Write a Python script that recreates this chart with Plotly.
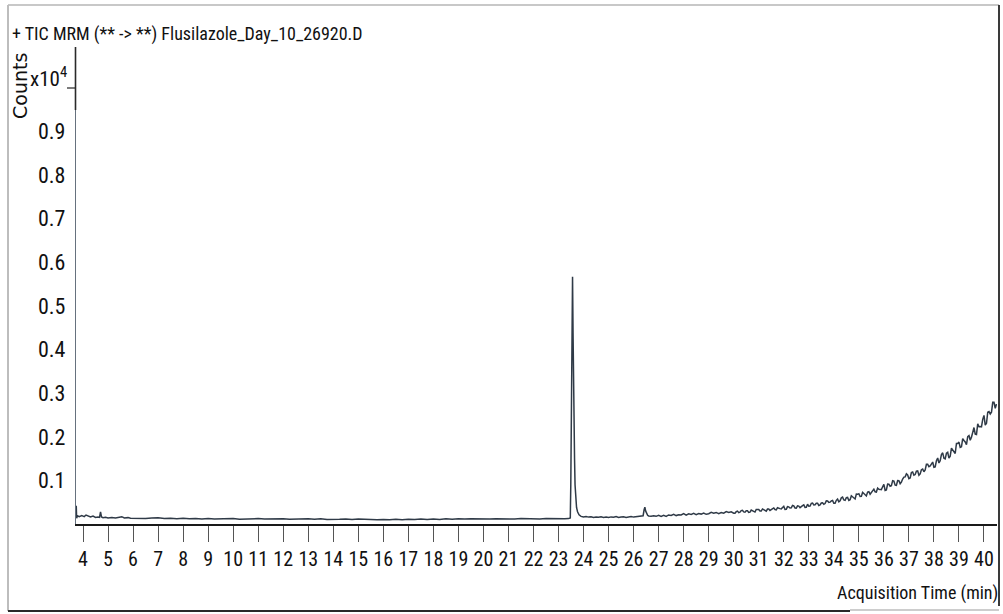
import plotly.graph_objects as go

# ---- data (counts) ----
t_start = [3.73, 3.745, 3.78, 3.85, 3.95, 4.05, 4.12, 4.2, 4.3, 4.4, 4.5, 4.6, 4.66, 4.7, 4.74,
           4.8, 4.9, 5.0, 5.15, 5.3, 5.45, 5.55, 5.65, 5.8, 5.9]
c_start = [420, 130, 190, 168, 192, 170, 205, 178, 160, 182, 150, 158, 150, 280, 160,
           145, 152, 138, 150, 140, 152, 168, 140, 146, 132]

t_flat = [6.0, 6.25, 6.5, 6.75, 7.0, 7.25, 7.5, 7.75, 8.0, 8.25, 8.5, 8.75, 9.0, 9.25, 9.5, 9.75,
          10.0, 10.25, 10.5, 10.75, 11.0, 11.25, 11.5, 11.75, 12.0, 12.25, 12.5, 12.75, 13.0, 13.25,
          13.5, 13.75, 14.0, 14.25, 14.5, 14.75, 15.0, 15.25, 15.5, 15.75, 16.0, 16.25, 16.5, 16.75,
          17.0, 17.25, 17.5, 17.75, 18.0, 18.25, 18.5, 18.75, 19.0, 19.25, 19.5, 19.75, 20.0, 20.25,
          20.5, 20.75, 21.0, 21.25, 21.5, 21.75, 22.0, 22.25, 22.5, 22.75, 23.0, 23.25, 23.4]
c_flat = [130, 138, 124, 135, 142, 126, 133, 122, 130, 118, 127, 115, 124, 112, 121, 116,
          126, 110, 120, 113, 125, 112, 118, 108, 121, 111, 117, 106, 118, 110,
          122, 105, 115, 108, 114, 102, 112, 104, 110, 98, 106, 96, 108, 100,
          110, 102, 112, 104, 115, 106, 118, 110, 122, 112, 120, 114, 125, 113,
          121, 116, 127, 115, 124, 118, 128, 116, 125, 119, 128, 118, 124]

t_peak = [23.44, 23.47, 23.49, 23.51, 23.53, 23.56, 23.58, 23.60, 23.62, 23.64, 23.66, 23.69,
          23.72, 23.76, 23.82, 23.90]
c_peak = [125, 140, 900, 2600, 4500, 5670, 4400, 3000, 2400, 1500, 900, 500,
          380, 280, 210, 175]

t_mid = [24.0, 24.1, 24.2, 24.3, 24.4, 24.5, 24.6, 24.7, 24.8, 24.9,
         25.0, 25.1, 25.2, 25.3, 25.4, 25.5, 25.6, 25.7, 25.8, 25.9,
         26.0, 26.1, 26.2, 26.3, 26.38, 26.42, 26.45, 26.48, 26.52, 26.56,
         26.6, 26.7, 26.8, 26.9]
c_mid = [160, 172, 158, 166, 150, 162, 155, 168, 152, 160,
         148, 163, 155, 170, 150, 158, 165, 152, 160, 170,
         158, 166, 162, 172, 190, 330, 385, 300, 230, 200,
         185, 178, 190, 176]

t_rise = [27.0, 27.1, 27.2, 27.3, 27.4, 27.5, 27.6, 27.7, 27.8, 27.9,
          28.0, 28.1, 28.2, 28.3, 28.4, 28.5, 28.6, 28.7, 28.8, 28.9,
          29.0, 29.1, 29.2, 29.3, 29.4, 29.5, 29.6, 29.7, 29.8, 29.9,
          30.0, 30.1, 30.2, 30.3, 30.4, 30.5, 30.6, 30.7, 30.8, 30.9,
          31.0, 31.1, 31.2, 31.3, 31.4, 31.5, 31.6, 31.7, 31.8, 31.9,
          32.0, 32.1, 32.2, 32.3, 32.4, 32.5, 32.6, 32.7, 32.8, 32.9,
          33.0, 33.1, 33.2, 33.3, 33.4, 33.5, 33.6, 33.7, 33.8, 33.9,
          34.0, 34.1, 34.2, 34.3, 34.4, 34.5, 34.6, 34.7, 34.8, 34.9,
          35.0, 35.1, 35.2, 35.3, 35.4, 35.5, 35.6, 35.7, 35.8, 35.9,
          36.0, 36.1, 36.2, 36.3, 36.4, 36.5, 36.6, 36.7, 36.8, 36.9,
          37.0, 37.1, 37.2, 37.3, 37.4, 37.5, 37.6, 37.7, 37.8, 37.9,
          38.0, 38.1, 38.2, 38.3, 38.4, 38.5, 38.6, 38.7, 38.8, 38.9,
          39.0, 39.1, 39.2, 39.3, 39.4, 39.5, 39.6, 39.7, 39.8, 39.9,
          40.0, 40.1, 40.2, 40.3, 40.4, 40.5]
c_rise = [201, 176, 197, 174, 207, 196, 222, 193, 213, 206,
          238, 203, 232, 220, 243, 216, 239, 227, 252, 222,
          235, 266, 246, 265, 237, 264, 247, 283, 264, 279,
          248, 282, 261, 307, 277, 302, 264, 319, 290, 333,
          334, 297, 329, 295, 345, 329, 368, 326, 356, 347,
          405, 335, 393, 371, 417, 363, 410, 389, 440, 383,
          410, 474, 438, 478, 426, 482, 452, 530, 496, 530,
          476, 543, 511, 600, 552, 602, 539, 647, 600, 686,
          694, 633, 699, 643, 742, 719, 800, 732, 796, 788,
          910, 782, 910, 878, 982, 886, 992, 962, 1076, 1150,
          1040, 1180, 1120, 1212, 1120, 1244, 1198, 1368, 1314, 1396,
          1302, 1450, 1400, 1592, 1509, 1624, 1512, 1741, 1662, 1847,
          1878, 1770, 1915, 1818, 2029, 1992, 2212, 2054, 2232, 2228,
          2490, 2310, 2578, 2566, 2792, 2752]

# intermediate scans of the noisy rising baseline (30-40.5 min)
t_rise_mid = [30.05, 30.15, 30.25, 30.35, 30.45, 30.55, 30.65, 30.75, 30.85, 30.95,
              31.05, 31.15, 31.25, 31.35, 31.45, 31.55, 31.65, 31.75, 31.85, 31.95,
              32.05, 32.15, 32.25, 32.35, 32.45, 32.55, 32.65, 32.75, 32.85, 32.95,
              33.05, 33.15, 33.25, 33.35, 33.45, 33.55, 33.65, 33.75, 33.85, 33.95,
              34.05, 34.15, 34.25, 34.35, 34.45, 34.55, 34.65, 34.75, 34.85, 34.95,
              35.05, 35.15, 35.25, 35.35, 35.45, 35.55, 35.65, 35.75, 35.85, 35.95,
              36.05, 36.15, 36.25, 36.35, 36.45, 36.55, 36.65, 36.75, 36.85, 36.95,
              37.05, 37.15, 37.25, 37.35, 37.45, 37.55, 37.65, 37.75, 37.85, 37.95,
              38.05, 38.15, 38.25, 38.35, 38.45, 38.55, 38.65, 38.75, 38.85, 38.95,
              39.05, 39.15, 39.25, 39.35, 39.45, 39.55, 39.65, 39.75, 39.85, 39.95,
              40.05, 40.15, 40.25, 40.35, 40.45]
c_rise_mid = [247, 296, 272, 315, 270, 304, 272, 306, 274, 329,
              298, 345, 317, 343, 312, 347, 332, 374, 353, 380,
              332, 398, 368, 426, 368, 415, 374, 421, 380, 455,
              414, 478, 442, 478, 438, 487, 469, 527, 501, 539,
              476, 571, 534, 617, 541, 609, 557, 626, 574, 681,
              630, 724, 679, 734, 683, 757, 738, 824, 794, 853,
              770, 914, 866, 994, 890, 995, 925, 1031, 1081, 1123,
              1054, 1194, 1134, 1218, 1150, 1261, 1239, 1369, 1331, 1421,
              1310, 1513, 1452, 1633, 1495, 1645, 1555, 1707, 1617, 1846,
              1758, 1958, 1883, 2006, 1920, 2095, 2063, 2297, 2237, 2401,
              2267, 2563, 2523, 2791, 2653]

x_ticks = list(range(4, 41))
y_tickvals = [1000, 2000, 3000, 4000, 5000, 6000, 7000, 8000, 9000]
y_ticktext = ["0.1", "0.2", "0.3", "0.4", "0.5", "0.6", "0.7", "0.8", "0.9"]

pairs = sorted(zip(t_start + t_flat + t_peak + t_mid + t_rise + t_rise_mid,
                   c_start + c_flat + c_peak + c_mid + c_rise + c_rise_mid))
times = [p[0] for p in pairs]
counts = [p[1] for p in pairs]

# ---- layout geometry ----
W, H = 1003, 614
L, R, T, B = 76, 6, 47, 90
def px_x(p):
    return (p - L) / (W - L - R)
def px_y(p):
    return (H - B - p) / (H - T - B)

FONT = "Roboto Condensed"
INK = "#111111"

fig = go.Figure(go.Scatter(x=times, y=counts, mode="lines",
                           line=dict(color="#2F3A47", width=1.5), hoverinfo="skip"))

fig.update_layout(
    width=W, height=H, autosize=False,
    margin=dict(l=L, r=R, t=T, b=B, pad=0),
    paper_bgcolor="white", plot_bgcolor="white",
    showlegend=False,
    xaxis=dict(range=[3.72, 40.52], showline=True, linecolor="#1a1a1a", linewidth=1.5,
               ticks="outside", ticklen=16, tickwidth=1.3, tickcolor="#555555",
               tickvals=x_ticks, tickfont=dict(family=FONT, size=20, color=INK),
               showgrid=False, zeroline=False),
    yaxis=dict(range=[0, 10940], showline=True, linecolor="#66717E", linewidth=1.3,
               ticks="", tickvals=y_tickvals, ticktext=y_ticktext,
               tickfont=dict(family=FONT, size=22, color=INK),
               ticklabelstandoff=5,
               showgrid=False, zeroline=False),
)

annotations = [
    dict(text="+ TIC MRM (** -> **) Flusilazole_Day_10_26920.D", x=px_x(10), y=px_y(34),
         xanchor="left", yanchor="middle", font=dict(family=FONT, size=18, color=INK)),
    dict(text="x10<sup>4</sup>", x=px_x(69), y=px_y(77), xanchor="right", yanchor="middle",
         font=dict(family=FONT, size=21, color=INK)),
    dict(text="Counts", x=px_x(20), y=px_y(86), xanchor="center", yanchor="middle",
         textangle=-90, font=dict(family="DejaVu Sans", size=19, color=INK)),
    dict(text="Acquisition Time (min)", x=px_x(1000), y=px_y(593), xanchor="right",
         yanchor="middle", font=dict(family=FONT, size=18, color=INK)),
]
for a in annotations:
    a.update(xref="paper", yref="paper", showarrow=False)
fig.update_layout(annotations=annotations)

def seg(x0, y0, x1, y1, color, width):
    return dict(type="line", xref="paper", yref="paper",
                x0=px_x(x0), y0=px_y(y0), x1=px_x(x1), y1=px_y(y1),
                line=dict(color=color, width=width))

shapes = [
    seg(67, 88, 75, 88, "#333333", 1.3),          # tick at 1.0
    seg(75.5, 47, 75.5, 110, "#2A2A2A", 1.6),     # darker top part of the y axis
    seg(8, 5, 999, 5, "#C8C8C8", 2),              # frame top
    seg(8, 5, 8, 611, "#BDBDBD", 2),              # frame left
    seg(999, 5, 999, 606, "#3A3A3A", 2),          # frame right
    seg(8, 611, 850, 611, "#2A2A2A", 2),          # frame bottom
    seg(850, 610, 999, 610, "#BDBDBD", 1.5),
]
fig.update_layout(shapes=shapes)

fig.write_html("out.html")
